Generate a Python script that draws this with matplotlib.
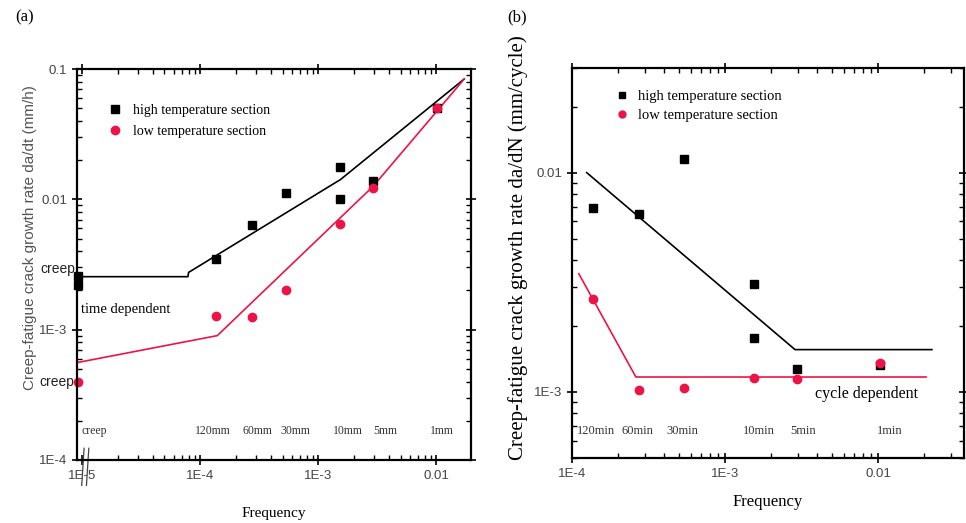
import matplotlib
matplotlib.use("Agg")
import matplotlib.pyplot as plt
from matplotlib.lines import Line2D
from matplotlib.ticker import FixedLocator, LogLocator, NullFormatter

# ---- data, panel (a): crack growth per time ----
freq_a_high = [9.2e-6, 9.2e-6, 1.37e-4, 2.75e-4, 5.4e-4, 1.53e-3, 1.53e-3, 2.93e-3, 1.02e-2]
rate_a_high = [2.56e-3, 2.2e-3, 3.5e-3, 6.4e-3, 1.11e-2, 1.76e-2, 1.0e-2, 1.38e-2, 5.0e-2]
freq_a_low = [9.2e-6, 1.37e-4, 2.75e-4, 5.4e-4, 1.53e-3, 2.93e-3, 1.02e-2]
rate_a_low = [4.0e-4, 1.28e-3, 1.26e-3, 2.03e-3, 6.5e-3, 1.22e-2, 5.0e-2]
fit_a_high_x = [9.2e-6, 7.9e-5, 8.0e-5, 1.55e-3, 1.73e-2]
fit_a_high_y = [2.55e-3, 2.55e-3, 2.75e-3, 1.42e-2, 8.38e-2]
fit_a_low_x = [9.2e-6, 1.4e-4, 2.93e-3, 1.73e-2]
fit_a_low_y = [5.6e-4, 9.0e-4, 1.26e-2, 8.38e-2]
dur_a = ["120mm", "60mm", "30mm", "10mm", "5mm", "1mm"]

# ---- data, panel (b): crack growth per cycle ----
freq_b_high = [1.37e-4, 2.74e-4, 5.4e-4, 1.55e-3, 1.55e-3, 2.95e-3, 1.03e-2]
rate_b_high = [6.9e-3, 6.5e-3, 1.15e-2, 3.1e-3, 1.77e-3, 1.27e-3, 1.33e-3]
freq_b_low = [1.37e-4, 2.74e-4, 5.4e-4, 1.55e-3, 2.95e-3, 1.03e-2]
rate_b_low = [2.66e-3, 1.02e-3, 1.04e-3, 1.16e-3, 1.15e-3, 1.36e-3]
fit_b_high_x = [1.25e-4, 2.87e-3, 2.25e-2]
fit_b_high_y = [1.0e-2, 1.56e-3, 1.56e-3]
fit_b_low_x = [1.11e-4, 2.62e-4, 2.06e-2]
fit_b_low_y = [3.46e-3, 1.17e-3, 1.17e-3]
dur_b = ["120min", "60min", "30min", "10min", "5min", "1min"]

RED = "#ec1446"
SERIF = "Liberation Serif"
SANS = "Liberation Sans"

fig = plt.figure(figsize=(9.66, 5.23), dpi=100)
ax_a = fig.add_axes([0.0797, 0.1205, 0.408, 0.7475])
ax_b = fig.add_axes([0.592, 0.1243, 0.406, 0.7457])


def style_axes(ax, xlim, ylim, xticks, xlabels, yticks, ylabels):
    ax.set_xscale("log")
    ax.set_yscale("log")
    ax.set_xlim(*xlim)
    ax.set_ylim(*ylim)
    ax.xaxis.set_major_locator(FixedLocator(xticks))
    ax.set_xticklabels(xlabels)
    ax.yaxis.set_major_locator(FixedLocator(yticks))
    ax.set_yticklabels(ylabels)
    for axis in (ax.xaxis, ax.yaxis):
        axis.set_minor_locator(LogLocator(base=10, subs=range(2, 10)))
        axis.set_minor_formatter(NullFormatter())
    ax.tick_params(which="major", direction="inout", length=7, width=1.2,
                   top=True, right=True, labelsize=9.5, labelcolor="#444")
    ax.tick_params(which="minor", direction="in", length=3.5, width=1.0,
                   top=True, right=True)
    for lab in ax.get_xticklabels() + ax.get_yticklabels():
        lab.set_family(SANS)
    for s in ax.spines.values():
        s.set_linewidth(1.6)


# ---------------- panel (a) ----------------
ax = ax_a
style_axes(ax, (9.07e-6, 1.98e-2), (1e-4, 0.1),
           [1e-5, 1e-4, 1e-3, 1e-2], ["1E-5", "1E-4", "1E-3", "0.01"],
           [1e-4, 1e-3, 1e-2, 1e-1], ["1E-4", "1E-3", "0.01", "0.1"])
ax.plot(fit_a_high_x, fit_a_high_y, color="black", lw=1.2)
ax.plot(fit_a_low_x, fit_a_low_y, color=RED, lw=1.2)
ax.plot(freq_a_high, rate_a_high, "s", color="black", ms=5.5, clip_on=False)
ax.plot(freq_a_low, rate_a_low, "o", color=RED, ms=6, clip_on=False)

dur_a_x = [1.29e-4, 3.04e-4, 6.38e-4, 1.8e-3, 3.7e-3, 1.12e-2]
for lab, xx in zip(dur_a, dur_a_x):
    ax.text(xx, 1.67e-4, lab, ha="center", va="center", fontsize=8.5, family=SERIF, color="#333")
ax.text(9.9e-6, 1.67e-4, "creep", ha="left", va="center", fontsize=8.5, family=SERIF, color="#333")
ax.text(9.9e-6, 1.43e-3, "time dependent", ha="left", va="center", fontsize=10.5, family=SERIF)
ax.text(-0.005, 0.488, "creep", transform=ax.transAxes, ha="right", va="center",
        fontsize=10, family=SANS, color="#222")
ax.text(-0.008, 0.2, "creep", transform=ax.transAxes, ha="right", va="center",
        fontsize=10, family=SANS, color="#222")

# axis break marks
for dx in (0.008, 0.02):
    ax.plot([0.004 + dx, 0.010 + dx], [-0.065, 0.03], transform=ax.transAxes,
            color="#444", lw=0.9, clip_on=False)

handles_a = [
    Line2D([], [], ls="none", marker="s", color="black", ms=5.5, label="high temperature section"),
    Line2D([], [], ls="none", marker="o", color=RED, ms=6, label="low temperature section"),
]
ax.legend(handles=handles_a, loc="upper left", bbox_to_anchor=(0.065, 0.925), frameon=False,
          prop={"family": SERIF, "size": 10}, handlelength=1.0, handletextpad=0.8,
          labelspacing=0.55, borderaxespad=0)
ax.set_xlabel("Frequency", family=SERIF, fontsize=11, labelpad=18)
ax.set_ylabel("Creep-fatigue crack growth rate da/dt (mm/h)", family=SANS, fontsize=11,
              color="#555", labelpad=8)
ax.yaxis.set_label_coords(-0.102, 0.57)
fig.text(25 / 966, 1 - 17 / 523, "(a)", family=SERIF, fontsize=12, ha="center", va="center")

# ---------------- panel (b) ----------------
ax = ax_b
style_axes(ax, (1e-4, 3.65e-2), (5.0e-4, 0.03),
           [1e-4, 1e-3, 1e-2], ["1E-4", "1E-3", "0.01"],
           [1e-3, 1e-2], ["1E-3", "0.01"])
ax.plot(fit_b_high_x, fit_b_high_y, color="black", lw=1.2)
ax.plot(fit_b_low_x, fit_b_low_y, color=RED, lw=1.2)
ax.plot(freq_b_high, rate_b_high, "s", color="black", ms=5.5)
ax.plot(freq_b_low, rate_b_low, "o", color=RED, ms=6)

dur_b_x = [1.44e-4, 2.7e-4, 5.3e-4, 1.67e-3, 3.24e-3, 1.2e-2]
for lab, xx in zip(dur_b, dur_b_x):
    ax.text(xx, 6.64e-4, lab, ha="center", va="center", fontsize=9, family=SERIF, color="#333")
ax.text(3.88e-3, 9.8e-4, "cycle dependent", ha="left", va="center", fontsize=11.5, family=SERIF)

handles_b = [
    Line2D([], [], ls="none", marker="s", color="black", ms=5, label="high temperature section"),
    Line2D([], [], ls="none", marker="o", color=RED, ms=5, label="low temperature section"),
]
ax.legend(handles=handles_b, loc="upper left", bbox_to_anchor=(0.095, 0.96), frameon=False,
          prop={"family": SERIF, "size": 10.5}, handlelength=1.0, handletextpad=0.6,
          labelspacing=0.4, borderaxespad=0)
ax.set_xlabel("Frequency", family=SERIF, fontsize=12, labelpad=10)
ax.set_ylabel("Creep-fatigue crack growth rate da/dN (mm/cycle)", family=SERIF, fontsize=15)
ax.yaxis.set_label_coords(-0.112, 0.54)
fig.text(517 / 966, 1 - 17 / 523, "(b)", family=SERIF, fontsize=12, ha="center", va="center")

fig.savefig("out.png", dpi=100)
